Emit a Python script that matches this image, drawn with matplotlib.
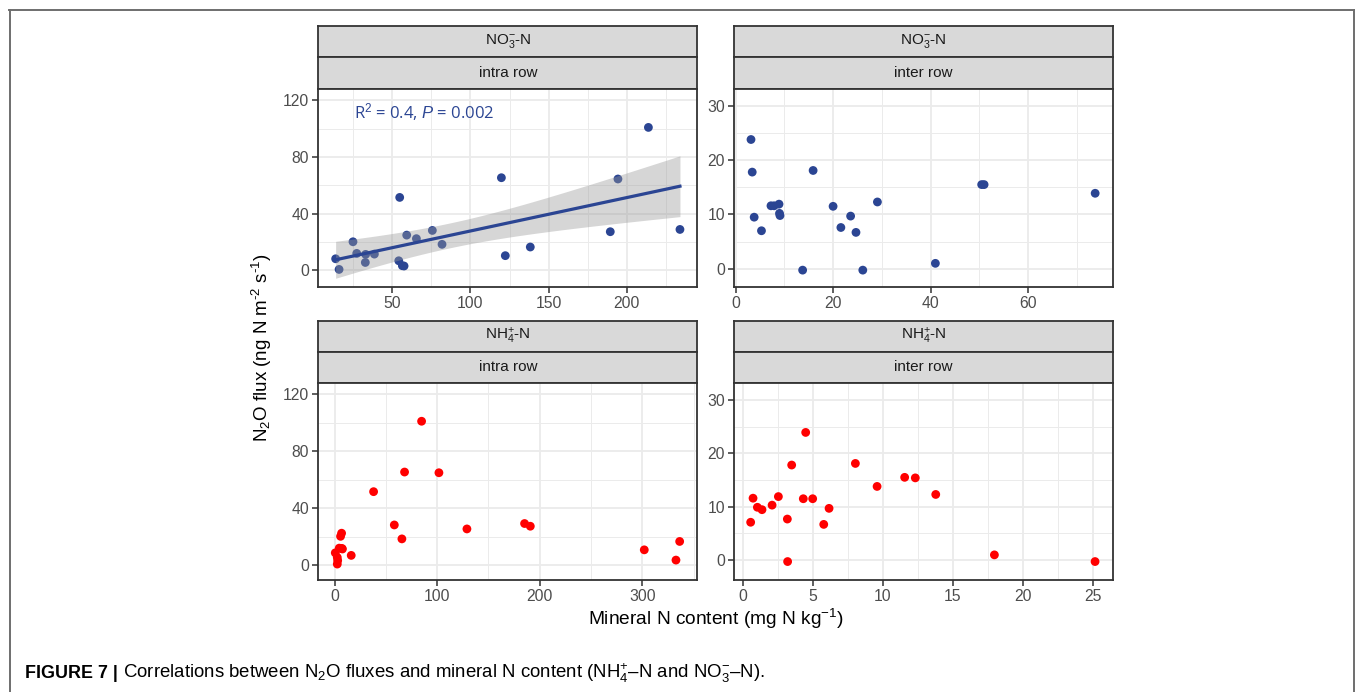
import numpy
from matplotlib import pyplot
from matplotlib.lines import Line2D


W, H = 1355, 692

# values
no3_intra_x = [13.7, 15.9, 24.8, 27.2, 32.9, 32.7, 38.5, 54.7, 54.1, 56.4, 57.5,
               59.2, 65.4, 75.6, 81.8, 119.8, 122.3, 138.3, 189.5, 194.4, 213.9, 234.1]
no3_intra_y = [8.2, 0.7, 20.2, 12.0, 11.3, 5.6, 11.5, 51.5, 6.8, 3.3, 3.1,
               24.9, 22.4, 28.2, 18.4, 65.4, 10.4, 16.5, 27.3, 64.5, 100.9, 28.9]

no3_inter_x = [3.15, 3.4, 3.8, 5.3, 7.25, 7.9, 8.9, 9.0, 9.1, 13.75, 15.9,
               20.0, 21.6, 23.6, 24.7, 26.1, 29.1, 41.0, 50.5, 51.0, 73.8]
no3_inter_y = [23.8, 17.8, 9.5, 7.0, 11.6, 11.6, 11.9, 10.2, 9.8, -0.25, 18.1,
               11.5, 7.6, 9.7, 6.7, -0.25, 12.3, 1.0, 15.5, 15.5, 13.9]

nh4_intra_x = [0.65, 2.6, 2.6, 3.0, 4.5, 5.8, 6.8, 7.1, 7.6, 16.2, 38.0,
               58.2, 65.6, 68.2, 84.8, 101.7, 129.0, 185.2, 190.8, 301.9, 332.8, 336.4]
nh4_intra_y = [8.6, 5.4, 0.7, 3.2, 11.9, 20.2, 22.4, 11.7, 11.3, 6.8, 51.6,
               28.2, 18.4, 65.4, 101.1, 64.9, 25.4, 29.2, 27.3, 10.7, 3.5, 16.6]

nh4_inter_x = [0.57, 0.74, 1.05, 1.38, 2.1, 2.55, 3.19, 3.21, 3.5, 4.33, 4.5,
               5.0, 5.79, 6.17, 8.05, 9.6, 11.57, 12.33, 13.79, 17.98, 25.17]
nh4_inter_y = [7.1, 11.6, 9.9, 9.45, 10.3, 11.9, 7.7, -0.25, 17.8, 11.5, 23.9,
               11.5, 6.7, 9.7, 18.1, 13.8, 15.5, 15.4, 12.3, 1.0, -0.25]

ion_labels = [r'$\mathregular{NO_3^{-}}$-N', r'$\mathregular{NH_4^{+}}$-N']
row_labels = ['intra row', 'inter row']
stat_label = r'R$^2$ = 0.4, $\mathit{P}$ = 0.002'
T_975 = 2.086  # student t, df = 20

BLUE = '#2b4593'
RED = '#ff0000'

pyplot.rcParams['font.family'] = ['Liberation Sans', 'DejaVu Sans']
pyplot.rcParams['mathtext.fontset'] = 'custom'
pyplot.rcParams['mathtext.rm'] = 'Liberation Sans'
pyplot.rcParams['mathtext.it'] = 'Liberation Sans:italic'
pyplot.rcParams['mathtext.bf'] = 'Liberation Sans:bold'


def _box(left, top, right, bottom):
    return [left / W, 1 - bottom / H, (right - left) / W, (bottom - top) / H]


def _strip(fig, left, top, right, bottom, label):
    ax = fig.add_axes(_box(left, top, right, bottom))
    ax.set_facecolor('#d9d9d9')
    ax.set_xticks([])
    ax.set_yticks([])
    for sp in ax.spines.values():
        sp.set_color('#333333')
        sp.set_linewidth(1.3)
    ax.text(0.5, 0.5, label, ha='center', va='center', fontsize=11,
            color='#1a1a1a', transform=ax.transAxes)
    return ax


def _panel(fig, left, top, right, bottom, xlim, ylim, xticks, yticks, xminor, yminor):
    ax = fig.add_axes(_box(left, top, right, bottom))
    ax.set_xlim(xlim)
    ax.set_ylim(ylim)
    ax.set_xticks(xticks)
    ax.set_yticks(yticks)
    ax.set_xticks(xminor, minor=True)
    ax.set_yticks(yminor, minor=True)
    ax.grid(which='major', color='#ebebeb', linewidth=1.3, zorder=0)
    ax.grid(which='minor', color='#ebebeb', linewidth=0.7, zorder=0)
    ax.set_axisbelow(True)
    ax.tick_params(which='major', length=4, width=1.1, color='#333333',
                   labelsize=11.3, labelcolor='#4d4d4d', pad=2.5)
    ax.tick_params(which='minor', length=0)
    for sp in ax.spines.values():
        sp.set_color('#333333')
        sp.set_linewidth(1.3)
    return ax


def _lm_band(x, y, n=80):
    x = numpy.asarray(x, dtype=float)
    y = numpy.asarray(y, dtype=float)
    slope, icpt = numpy.polyfit(x, y, 1)
    resid = y - (slope * x + icpt)
    s = numpy.sqrt(numpy.sum(resid ** 2) / (x.size - 2))
    sxx = numpy.sum((x - x.mean()) ** 2)
    xs = numpy.linspace(x.min(), x.max(), n)
    fit = slope * xs + icpt
    se = s * numpy.sqrt(1.0 / x.size + (xs - x.mean()) ** 2 / sxx)
    return xs, fit, fit - T_975 * se, fit + T_975 * se


fig = pyplot.figure(figsize=(W / 100, H / 100), dpi=100)

cols = [(318.3, 697.3), (734.0, 1112.7)]
rows = [(26.0, 56.7, 89.0, 286.7), (321.0, 351.7, 382.7, 580.0)]

panels = [
    # (row, col, x, y, colour, xlim, ylim, xticks, yticks, xminor, yminor)
    (0, 0, no3_intra_x, no3_intra_y, BLUE, (2.6, 245.2), (-11.5, 128.0),
     [50, 100, 150, 200], [0, 40, 80, 120], [25, 75, 125, 175, 225], [20, 60, 100]),
    (0, 1, no3_inter_x, no3_inter_y, BLUE, (-0.34, 77.4), (-3.3, 33.1),
     [0, 20, 40, 60], [0, 10, 20, 30], [10, 30, 50, 70], [5, 15, 25]),
    (1, 0, nh4_intra_x, nh4_intra_y, RED, (-15.9, 353.6), (-10.5, 128.2),
     [0, 100, 200, 300], [0, 40, 80, 120], [50, 150, 250, 350], [20, 60, 100]),
    (1, 1, nh4_inter_x, nh4_inter_y, RED, (-0.62, 26.43), (-3.7, 33.2),
     [0, 5, 10, 15, 20, 25], [0, 10, 20, 30], [2.5, 7.5, 12.5, 17.5, 22.5], [5, 15, 25]),
]

for r, c, xs, ys, colour, xlim, ylim, xt, yt, xm, ym in panels:
    left, right = cols[c]
    s_top, s_mid, p_top, p_bot = rows[r]
    _strip(fig, left, s_top, right, s_mid, ion_labels[r])
    _strip(fig, left, s_mid, right, p_top, row_labels[c])
    ax = _panel(fig, left, p_top, right, p_bot, xlim, ylim, xt, yt, xm, ym)
    ax.scatter(xs, ys, s=40, color=colour, edgecolor='none', zorder=3)

    if r == 0 and c == 0:
        lx, fit, lo, hi = _lm_band(xs, ys)
        ax.fill_between(lx, lo, hi, color='#999999', alpha=0.4, linewidth=0, zorder=4)
        ax.plot(lx, fit, color=BLUE, linewidth=2.3, zorder=5)
        ax.text(25.2, 111.5, stat_label, color=BLUE, fontsize=12,
                family=['Open Sans', 'DejaVu Sans'], ha='left', va='center', zorder=6)

# the y title uses plain hyphens in its exponents, the x title a minus
fig.text(262 / W, 1 - 348 / H,
         r'N$_2$O flux (ng N m$^{\text{-2}}$ s$^{\text{-1}}$)',
         rotation=90, ha='center', va='center', fontsize=13.5, color='black')
fig.text(715.5 / W, 1 - 619 / H, r'Mineral N content (mg N kg$^{-1}$)',
         ha='center', va='center', fontsize=13.8, color='black')

# caption
head = fig.text(25 / W, 1 - 673 / H, 'FIGURE 7 |', fontsize=12.9, fontweight='bold',
                ha='left', va='center')
renderer = fig.canvas.get_renderer()
bb = head.get_window_extent(renderer)
fig.text((bb.x1 + 5) / W, 1 - 673 / H,
         r'Correlations between N$_2$O fluxes and mineral N content '
         r'(NH$_4^{+}$–N and NO$_3^{-}$–N).',
         fontsize=13.4, ha='left', va='center')

# page frame (top, left and right edges only)
frame_kw = dict(color='#6e6e6e', linewidth=1.4, transform=fig.transFigure)
fig.add_artist(Line2D([9 / W, 1354 / W], [1 - 9.5 / H, 1 - 9.5 / H], **frame_kw))
fig.add_artist(Line2D([9.5 / W, 9.5 / W], [0, 1 - 9.5 / H], **frame_kw))
fig.add_artist(Line2D([1353.5 / W, 1353.5 / W], [0, 1 - 9.5 / H], **frame_kw))

fig.savefig('out.png', dpi=100)
